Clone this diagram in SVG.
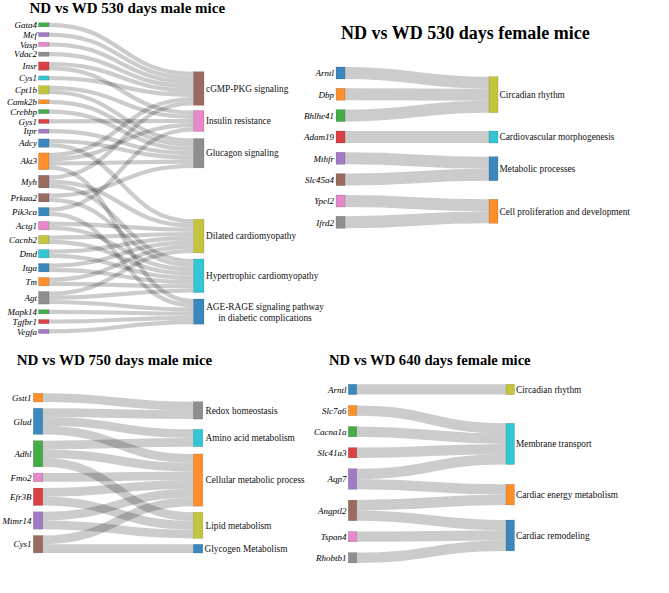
<svg xmlns="http://www.w3.org/2000/svg" width="669" height="593" viewBox="0 0 669 593">
<style>
.bg{fill:#fff}
.t{font-family:"Liberation Serif","Times New Roman",serif;font-weight:bold;font-size:15px;fill:#000}
.g{font-family:"Liberation Serif","Times New Roman",serif;font-style:italic;font-size:9px;fill:#000;text-anchor:end}
.p{font-family:"Liberation Serif","Times New Roman",serif;font-size:9.3px;fill:#111}
.links path{fill:none;stroke:#000;stroke-opacity:0.2}
rect.n{stroke:#000;stroke-opacity:0.25;stroke-width:0.5;fill-opacity:0.88}
.blue{fill:#1f77b4}.orange{fill:#ff7f0e}.green{fill:#2ca02c}.red{fill:#d62728}.purple{fill:#9467bd}
.brown{fill:#8c564b}.pink{fill:#e377c2}.gray{fill:#7f7f7f}.olive{fill:#bcbd22}.cyan{fill:#17becf}
</style>
<rect class="bg" x="0" y="0" width="669" height="593"/>

<text class="t" x="29.5" y="12.5">ND vs WD 530 days male mice</text>
<text class="t" x="341" y="38.5" style="font-size:18px">ND vs WD 530 days female mice</text>
<text class="t" x="16.7" y="365">ND vs WD 750 days male mice</text>
<text class="t" x="329" y="365" style="font-size:14.6px">ND vs WD 640 days female mice</text>

<!-- Panel 1 links -->
<g id="links-530-male" class="links" stroke-width="4.2">
<path d="M49,24.8C121.25,24.8 121.25,73.8 193.5,73.8"/>
<path d="M49,34.6C121.25,34.6 121.25,78 193.5,78"/>
<path d="M49,44.4C121.25,44.4 121.25,82.2 193.5,82.2"/>
<path d="M49,54.2C121.25,54.2 121.25,86.4 193.5,86.4"/>
<path d="M49,64C121.25,64 121.25,90.6 193.5,90.6"/>
<path d="M49,68.2C121.25,68.2 121.25,112.6 193.5,112.6"/>
<path d="M49,78C121.25,78 121.25,94.8 193.5,94.8"/>
<path d="M49,87.8C121.25,87.8 121.25,116.8 193.5,116.8"/>
<path d="M49,92C121.25,92 121.25,140.6 193.5,140.6"/>
<path d="M49,101.8C121.25,101.8 121.25,144.8 193.5,144.8"/>
<path d="M49,111.6C121.25,111.6 121.25,149 193.5,149"/>
<path d="M49,121.4C121.25,121.4 121.25,121 193.5,121"/>
<path d="M49,131.2C121.25,131.2 121.25,153.2 193.5,153.2"/>
<path d="M49,141C121.25,141 121.25,157.4 193.5,157.4"/>
<path d="M49,145.2C121.25,145.2 121.25,221.4 193.5,221.4"/>
<path d="M49,155C121.25,155 121.25,99 193.5,99"/>
<path d="M49,159.2C121.25,159.2 121.25,125.2 193.5,125.2"/>
<path d="M49,163.4C121.25,163.4 121.25,161.6 193.5,161.6"/>
<path d="M49,167.6C121.25,167.6 121.25,301.1 193.5,301.1"/>
<path d="M49,177.4C121.25,177.4 121.25,103.2 193.5,103.2"/>
<path d="M49,181.6C121.25,181.6 121.25,225.6 193.5,225.6"/>
<path d="M49,185.8C121.25,185.8 121.25,261.1 193.5,261.1"/>
<path d="M49,195.6C121.25,195.6 121.25,165.8 193.5,165.8"/>
<path d="M49,199.8C121.25,199.8 121.25,265.3 193.5,265.3"/>
<path d="M49,209.6C121.25,209.6 121.25,129.4 193.5,129.4"/>
<path d="M49,213.8C121.25,213.8 121.25,305.3 193.5,305.3"/>
<path d="M49,223.6C121.25,223.6 121.25,229.8 193.5,229.8"/>
<path d="M49,227.8C121.25,227.8 121.25,269.5 193.5,269.5"/>
<path d="M49,237.6C121.25,237.6 121.25,234 193.5,234"/>
<path d="M49,241.8C121.25,241.8 121.25,273.7 193.5,273.7"/>
<path d="M49,251.6C121.25,251.6 121.25,238.2 193.5,238.2"/>
<path d="M49,255.8C121.25,255.8 121.25,277.9 193.5,277.9"/>
<path d="M49,265.6C121.25,265.6 121.25,242.4 193.5,242.4"/>
<path d="M49,269.8C121.25,269.8 121.25,282.1 193.5,282.1"/>
<path d="M49,279.6C121.25,279.6 121.25,246.6 193.5,246.6"/>
<path d="M49,283.8C121.25,283.8 121.25,286.3 193.5,286.3"/>
<path d="M49,293.6C121.25,293.6 121.25,250.8 193.5,250.8"/>
<path d="M49,297.8C121.25,297.8 121.25,290.5 193.5,290.5"/>
<path d="M49,302C121.25,302 121.25,309.5 193.5,309.5"/>
<path d="M49,311.8C121.25,311.8 121.25,313.7 193.5,313.7"/>
<path d="M49,321.6C121.25,321.6 121.25,317.9 193.5,317.9"/>
<path d="M49,331.4C121.25,331.4 121.25,322.1 193.5,322.1"/>
</g>

<!-- Panel 2 links -->
<g id="links-530-female" class="links" stroke-width="12">
<path d="M345,73C417,73 417,82.7 489,82.7"/>
<path d="M345,94.3C417,94.3 417,94.7 489,94.7"/>
<path d="M345,115.6C417,115.6 417,106.7 489,106.7"/>
<path d="M345,137C417,137 417,137 489,137"/>
<path d="M345,158.3C417,158.3 417,162.7 489,162.7"/>
<path d="M345,179.6C417,179.6 417,174.7 489,174.7"/>
<path d="M345,201C417,201 417,205.3 489,205.3"/>
<path d="M345,222.3C417,222.3 417,217.3 489,217.3"/>
</g>

<!-- Panel 3 links -->
<g id="links-750-male" class="links" stroke-width="8.7">
<path d="M42.8,397.65C118.05,397.65 118.05,406.05 193.3,406.05"/>
<path d="M42.8,412.65C118.05,412.65 118.05,414.75 193.3,414.75"/>
<path d="M42.8,421.35C118.05,421.35 118.05,433.65 193.3,433.65"/>
<path d="M42.8,430.05C118.05,430.05 118.05,458.35 193.3,458.35"/>
<path d="M42.8,445.05C118.05,445.05 118.05,442.35 193.3,442.35"/>
<path d="M42.8,453.75C118.05,453.75 118.05,467.05 193.3,467.05"/>
<path d="M42.8,462.45C118.05,462.45 118.05,516.65 193.3,516.65"/>
<path d="M42.8,477.45C118.05,477.45 118.05,475.75 193.3,475.75"/>
<path d="M42.8,492.45C118.05,492.45 118.05,484.45 193.3,484.45"/>
<path d="M42.8,501.15C118.05,501.15 118.05,525.35 193.3,525.35"/>
<path d="M42.8,516.15C118.05,516.15 118.05,493.15 193.3,493.15"/>
<path d="M42.8,524.85C118.05,524.85 118.05,534.05 193.3,534.05"/>
<path d="M42.8,539.85C118.05,539.85 118.05,501.85 193.3,501.85"/>
<path d="M42.8,548.55C118.05,548.55 118.05,548.65 193.3,548.65"/>
</g>

<!-- Panel 4 links -->
<g id="links-640-female" class="links" stroke-width="10.3">
<path d="M356.8,389.45C431.4,389.45 431.4,389.45 506,389.45"/>
<path d="M356.8,410.55C431.4,410.55 431.4,428.45 506,428.45"/>
<path d="M356.8,431.65C431.4,431.65 431.4,438.75 506,438.75"/>
<path d="M356.8,452.75C431.4,452.75 431.4,449.05 506,449.05"/>
<path d="M356.8,473.85C431.4,473.85 431.4,459.35 506,459.35"/>
<path d="M356.8,484.15C431.4,484.15 431.4,489.45 506,489.45"/>
<path d="M356.8,505.25C431.4,505.25 431.4,499.75 506,499.75"/>
<path d="M356.8,515.55C431.4,515.55 431.4,525.15 506,525.15"/>
<path d="M356.8,536.65C431.4,536.65 431.4,535.45 506,535.45"/>
<path d="M356.8,557.75C431.4,557.75 431.4,545.75 506,545.75"/>
</g>

<!-- Panel 1 nodes -->
<g id="n-Gata4"><rect class="n green" x="38.5" y="22.7" width="10.5" height="4.2"/><text class="g" x="37" y="27.9">Gata4</text></g>
<g id="n-Mef"><rect class="n purple" x="38.5" y="32.5" width="10.5" height="4.2"/><text class="g" x="37" y="37.7">Mef</text></g>
<g id="n-Vasp"><rect class="n pink" x="38.5" y="42.3" width="10.5" height="4.2"/><text class="g" x="37" y="47.5">Vasp</text></g>
<g id="n-Vdac2"><rect class="n gray" x="38.5" y="52.1" width="10.5" height="4.2"/><text class="g" x="37" y="57.3">Vdac2</text></g>
<g id="n-Insr"><rect class="n red" x="38.5" y="61.9" width="10.5" height="8.4"/><text class="g" x="37" y="69.2">Insr</text></g>
<g id="n-Cys1a"><rect class="n cyan" x="38.5" y="75.9" width="10.5" height="4.2"/><text class="g" x="37" y="81.1">Cys1</text></g>
<g id="n-Cpt1b"><rect class="n olive" x="38.5" y="85.7" width="10.5" height="8.4"/><text class="g" x="37" y="93">Cpt1b</text></g>
<g id="n-Camk2b"><rect class="n orange" x="38.5" y="99.7" width="10.5" height="4.2"/><text class="g" x="37" y="104.9">Camk2b</text></g>
<g id="n-Crebbp"><rect class="n green" x="38.5" y="109.5" width="10.5" height="4.2"/><text class="g" x="37" y="114.7">Crebbp</text></g>
<g id="n-Gys1"><rect class="n red" x="38.5" y="119.3" width="10.5" height="4.2"/><text class="g" x="37" y="124.5">Gys1</text></g>
<g id="n-Itpr"><rect class="n purple" x="38.5" y="129.1" width="10.5" height="4.2"/><text class="g" x="37" y="134.3">Itpr</text></g>
<g id="n-Adcy"><rect class="n blue" x="38.5" y="138.9" width="10.5" height="8.4"/><text class="g" x="37" y="146.2">Adcy</text></g>
<g id="n-Akt3"><rect class="n orange" x="38.5" y="152.9" width="10.5" height="16.8"/><text class="g" x="37" y="164.4">Akt3</text></g>
<g id="n-Myh"><rect class="n brown" x="38.5" y="175.3" width="10.5" height="12.6"/><text class="g" x="37" y="184.7">Myh</text></g>
<g id="n-Prkaa2"><rect class="n brown" x="38.5" y="193.5" width="10.5" height="8.4"/><text class="g" x="37" y="200.8">Prkaa2</text></g>
<g id="n-Pik3ca"><rect class="n blue" x="38.5" y="207.5" width="10.5" height="8.4"/><text class="g" x="37" y="214.8">Pik3ca</text></g>
<g id="n-Actg1"><rect class="n pink" x="38.5" y="221.5" width="10.5" height="8.4"/><text class="g" x="37" y="228.8">Actg1</text></g>
<g id="n-Cacnb2"><rect class="n olive" x="38.5" y="235.5" width="10.5" height="8.4"/><text class="g" x="37" y="242.8">Cacnb2</text></g>
<g id="n-Dmd"><rect class="n cyan" x="38.5" y="249.5" width="10.5" height="8.4"/><text class="g" x="37" y="256.8">Dmd</text></g>
<g id="n-Itga"><rect class="n blue" x="38.5" y="263.5" width="10.5" height="8.4"/><text class="g" x="37" y="270.8">Itga</text></g>
<g id="n-Tm"><rect class="n orange" x="38.5" y="277.5" width="10.5" height="8.4"/><text class="g" x="37" y="284.8">Tm</text></g>
<g id="n-Agt"><rect class="n gray" x="38.5" y="291.5" width="10.5" height="12.6"/><text class="g" x="37" y="300.9">Agt</text></g>
<g id="n-Mapk14"><rect class="n green" x="38.5" y="309.7" width="10.5" height="4.2"/><text class="g" x="37" y="314.9">Mapk14</text></g>
<g id="n-Tgfbr1"><rect class="n red" x="38.5" y="319.5" width="10.5" height="4.2"/><text class="g" x="37" y="324.7">Tgfbr1</text></g>
<g id="n-Vegfa"><rect class="n purple" x="38.5" y="329.3" width="10.5" height="4.2"/><text class="g" x="37" y="334.5">Vegfa</text></g>

<g id="n-cGMP"><rect class="n brown" x="193.5" y="71.7" width="10.5" height="33.6"/><text class="p" x="206" y="91.7">cGMP-PKG signaling</text></g>
<g id="n-Insulin"><rect class="n pink" x="193.5" y="110.5" width="10.5" height="21"/><text class="p" x="206" y="124.2">Insulin resistance</text></g>
<g id="n-Glucagon"><rect class="n gray" x="193.5" y="138.5" width="10.5" height="29.4"/><text class="p" x="206" y="156.4">Glucagon signaling</text></g>
<g id="n-DCM"><rect class="n olive" x="193.5" y="219.3" width="10.5" height="33.6"/><text class="p" x="206" y="239.3">Dilated cardiomyopathy</text></g>
<g id="n-HCM"><rect class="n cyan" x="193.5" y="259" width="10.5" height="33.6"/><text class="p" x="206" y="279">Hypertrophic cardiomyopathy</text></g>
<g id="n-AGE"><rect class="n blue" x="193.5" y="299" width="10.5" height="25.2"/><text class="p" x="265" y="309.5" text-anchor="middle">AGE-RAGE signaling pathway</text><text class="p" x="265" y="321" text-anchor="middle">in diabetic complications</text></g>

<!-- Panel 2 nodes -->
<g id="n2-Arntl"><rect class="n blue" x="336" y="67" width="9" height="12"/><text class="g" x="334" y="76.2">Arntl</text></g>
<g id="n2-Dbp"><rect class="n orange" x="336" y="88.3" width="9" height="12"/><text class="g" x="334" y="97.5">Dbp</text></g>
<g id="n2-Bhlhe41"><rect class="n green" x="336" y="109.6" width="9" height="12"/><text class="g" x="334" y="118.8">Bhlhe41</text></g>
<g id="n2-Adam19"><rect class="n red" x="336" y="131" width="9" height="12"/><text class="g" x="334" y="140.2">Adam19</text></g>
<g id="n2-Mthfr"><rect class="n purple" x="336" y="152.3" width="9" height="12"/><text class="g" x="334" y="161.5">Mthfr</text></g>
<g id="n2-Slc45a4"><rect class="n brown" x="336" y="173.6" width="9" height="12"/><text class="g" x="334" y="182.8">Slc45a4</text></g>
<g id="n2-Ypel2"><rect class="n pink" x="336" y="195" width="9" height="12"/><text class="g" x="334" y="204.2">Ypel2</text></g>
<g id="n2-Ifrd2"><rect class="n gray" x="336" y="216.3" width="9" height="12"/><text class="g" x="334" y="225.5">Ifrd2</text></g>
<g id="n2-Circadian"><rect class="n olive" x="489" y="76.7" width="9" height="36"/><text class="p" x="499.5" y="97.9">Circadian rhythm</text></g>
<g id="n2-Cardiovascular"><rect class="n cyan" x="489" y="131" width="9" height="12"/><text class="p" x="499.5" y="140.2">Cardiovascular morphogenesis</text></g>
<g id="n2-Metabolic"><rect class="n blue" x="489" y="156.7" width="9" height="24"/><text class="p" x="499.5" y="171.9">Metabolic processes</text></g>
<g id="n2-Cell"><rect class="n orange" x="489" y="199.3" width="9" height="24"/><text class="p" x="499.5" y="214.5">Cell proliferation and development</text></g>

<!-- Panel 3 nodes -->
<g id="n3-Gstt1"><rect class="n orange" x="33.3" y="393.3" width="9.5" height="8.7"/><text class="g" x="31.5" y="400.8">Gstt1</text></g>
<g id="n3-Glud"><rect class="n blue" x="33.3" y="408.3" width="9.5" height="26.1"/><text class="g" x="31.5" y="424.5">Glud</text></g>
<g id="n3-Adhl"><rect class="n green" x="33.3" y="440.7" width="9.5" height="26.1"/><text class="g" x="31.5" y="456.9">Adhl</text></g>
<g id="n3-Fmo2"><rect class="n pink" x="33.3" y="473.1" width="9.5" height="8.7"/><text class="g" x="31.5" y="480.6">Fmo2</text></g>
<g id="n3-Efr3B"><rect class="n red" x="33.3" y="488.1" width="9.5" height="17.4"/><text class="g" x="31.5" y="499.9">Efr3B</text></g>
<g id="n3-Mtmr14"><rect class="n purple" x="33.3" y="511.8" width="9.5" height="17.4"/><text class="g" x="31.5" y="523.6">Mtmr14</text></g>
<g id="n3-Cys1"><rect class="n brown" x="33.3" y="535.5" width="9.5" height="17.4"/><text class="g" x="31.5" y="547.3">Cys1</text></g>
<g id="n3-Redox"><rect class="n gray" x="193.3" y="401.7" width="9.5" height="17.4"/><text class="p" x="205.5" y="413.6">Redox homeostasis</text></g>
<g id="n3-Amino"><rect class="n cyan" x="193.3" y="429.3" width="9.5" height="17.4"/><text class="p" x="205.5" y="441.2">Amino acid metabolism</text></g>
<g id="n3-Cellular"><rect class="n orange" x="193.3" y="454" width="9.5" height="52.2"/><text class="p" x="205.5" y="483.3">Cellular metabolic process</text></g>
<g id="n3-Lipid"><rect class="n olive" x="193.3" y="512.3" width="9.5" height="26.1"/><text class="p" x="205.5" y="528.5">Lipid metabolism</text></g>
<g id="n3-Glycogen"><rect class="n blue" x="193.3" y="544.3" width="9.5" height="8.7"/><text class="p" x="204.5" y="551.8">Glycogen Metabolism</text></g>

<!-- Panel 4 nodes -->
<g id="n4-Arntl"><rect class="n blue" x="348.3" y="384.3" width="8.5" height="10.3"/><text class="g" x="346.5" y="392.6">Arntl</text></g>
<g id="n4-Slc7a6"><rect class="n orange" x="348.3" y="405.4" width="8.5" height="10.3"/><text class="g" x="346.5" y="413.7">Slc7a6</text></g>
<g id="n4-Cacna1a"><rect class="n green" x="348.3" y="426.5" width="8.5" height="10.3"/><text class="g" x="346.5" y="434.8">Cacna1a</text></g>
<g id="n4-Slc41a3"><rect class="n red" x="348.3" y="447.6" width="8.5" height="10.3"/><text class="g" x="346.5" y="455.9">Slc41a3</text></g>
<g id="n4-Aqp7"><rect class="n purple" x="348.3" y="468.7" width="8.5" height="20.6"/><text class="g" x="346.5" y="482.2">Aqp7</text></g>
<g id="n4-Angptl2"><rect class="n brown" x="348.3" y="500.1" width="8.5" height="20.6"/><text class="g" x="346.5" y="513.6">Angptl2</text></g>
<g id="n4-Tspan4"><rect class="n pink" x="348.3" y="531.5" width="8.5" height="10.3"/><text class="g" x="346.5" y="539.8">Tspan4</text></g>
<g id="n4-Rhobtb1"><rect class="n gray" x="348.3" y="552.6" width="8.5" height="10.3"/><text class="g" x="346.5" y="560.9">Rhobtb1</text></g>
<g id="n4-Circadian"><rect class="n olive" x="506" y="384.3" width="8.5" height="10.3"/><text class="p" x="516" y="392.7">Circadian rhythm</text></g>
<g id="n4-Membrane"><rect class="n cyan" x="506" y="423.3" width="8.5" height="41.2"/><text class="p" x="516" y="447.1">Membrane transport</text></g>
<g id="n4-Energy"><rect class="n orange" x="506" y="484.3" width="8.5" height="20.6"/><text class="p" x="516" y="497.8">Cardiac energy metabolism</text></g>
<g id="n4-Remodeling"><rect class="n blue" x="506" y="520" width="8.5" height="30.9"/><text class="p" x="516" y="538.6">Cardiac remodeling</text></g>
</svg>
